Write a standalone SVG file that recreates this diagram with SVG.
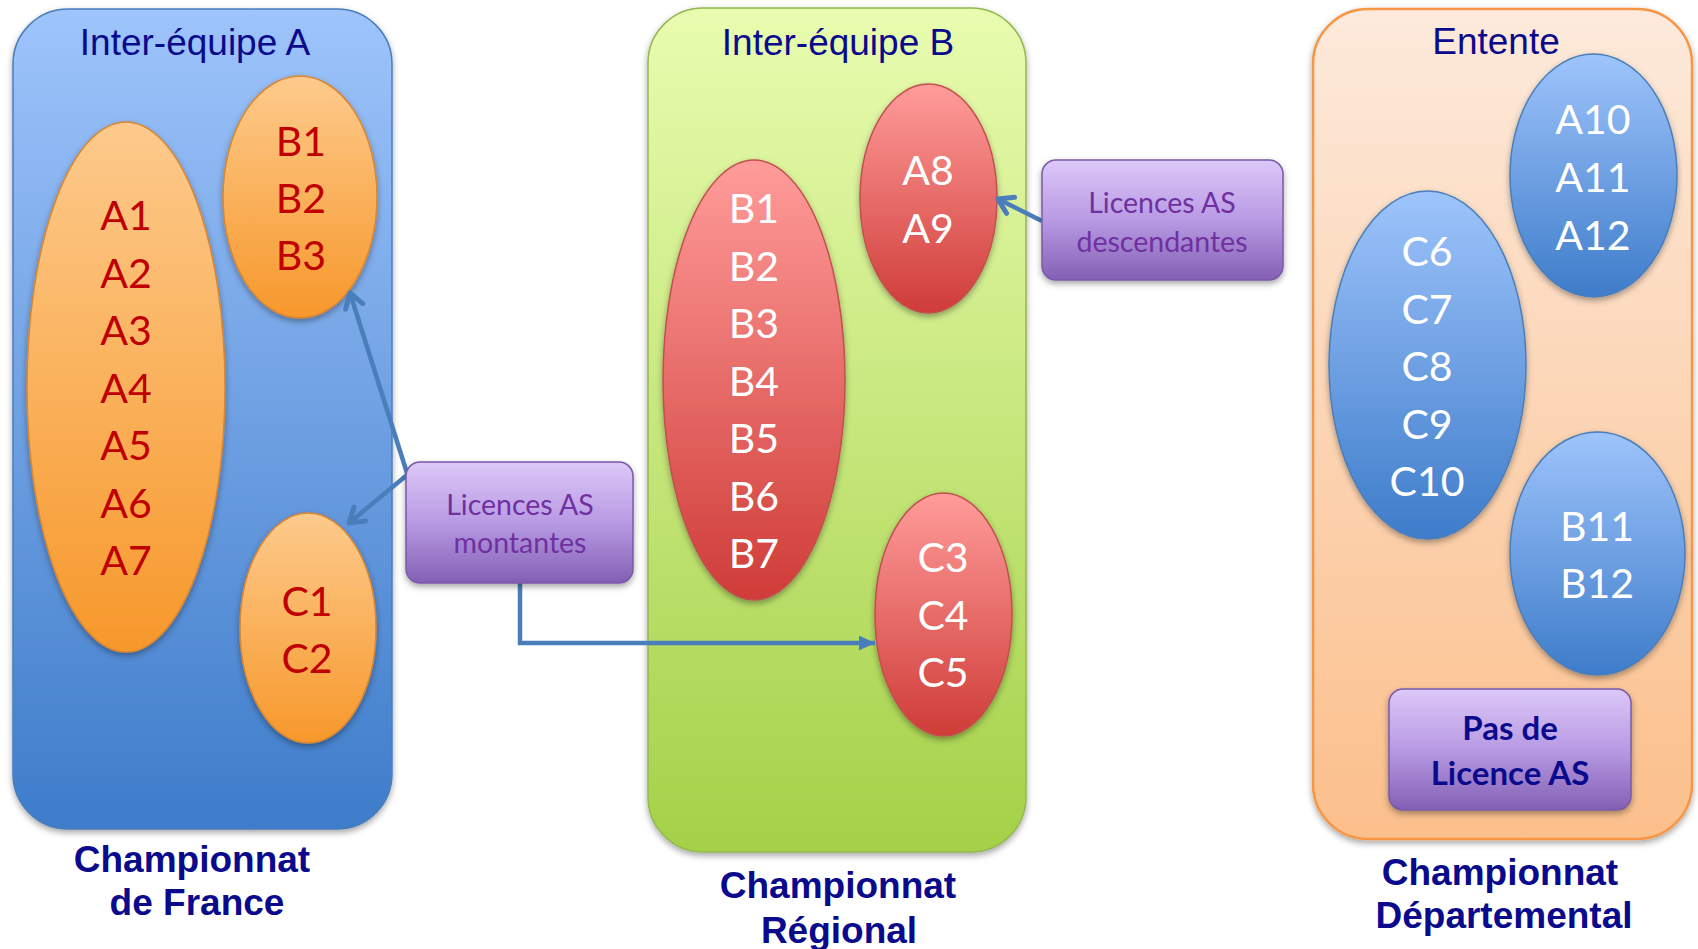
<svg xmlns="http://www.w3.org/2000/svg" width="1698" height="949" viewBox="0 0 1698 949">
<defs>
<linearGradient id="gPanelA" x1="0" y1="0" x2="0" y2="1"><stop offset="0" stop-color="#9ec4fb"/><stop offset="1" stop-color="#3e7cca"/></linearGradient>
<linearGradient id="gPanelB" x1="0" y1="0" x2="0" y2="1"><stop offset="0" stop-color="#e9fcb0"/><stop offset="1" stop-color="#a4d148"/></linearGradient>
<linearGradient id="gPanelC" x1="0" y1="0" x2="0" y2="1"><stop offset="0" stop-color="#fdeadc"/><stop offset="1" stop-color="#fbbf8b"/></linearGradient>
<linearGradient id="gOrange" x1="0" y1="0" x2="0" y2="1"><stop offset="0" stop-color="#fdca8c"/><stop offset="1" stop-color="#f7982b"/></linearGradient>
<linearGradient id="gRed" x1="0" y1="0" x2="0" y2="1"><stop offset="0" stop-color="#ff9c9a"/><stop offset="1" stop-color="#cf3c38"/></linearGradient>
<linearGradient id="gBlue" x1="0" y1="0" x2="0" y2="1"><stop offset="0" stop-color="#9ec4fb"/><stop offset="1" stop-color="#3e7cca"/></linearGradient>
<linearGradient id="gPurple" x1="0" y1="0" x2="0" y2="1"><stop offset="0" stop-color="#dcc8f8"/><stop offset="0.5" stop-color="#b89ae3"/><stop offset="1" stop-color="#8360b4"/></linearGradient>
<filter id="sh" x="-20%" y="-20%" width="140%" height="140%"><feDropShadow dx="0" dy="3" stdDeviation="3" flood-color="#000" flood-opacity="0.35"/></filter>
<marker id="openArrow" markerUnits="userSpaceOnUse" viewBox="0 0 22 24" refX="18" refY="12" markerWidth="22" markerHeight="24" orient="auto"><path d="M4,3 L18,12 L4,21" fill="none" stroke="#4a7ebb" stroke-width="5" stroke-linecap="round" stroke-linejoin="round"/></marker>
<marker id="solidArrow" markerUnits="userSpaceOnUse" viewBox="0 0 16 15" refX="16" refY="7.5" markerWidth="16" markerHeight="15" orient="auto"><path d="M0,0 L16,7.5 L0,15 z" fill="#4a7ebb"/></marker>
</defs>
<style>
.title{font-family:"Liberation Sans",Arial,sans-serif;font-size:37px;fill:#0a0a8c;text-anchor:middle}
.champ{font-family:"Liberation Sans",Arial,sans-serif;font-size:37px;font-weight:bold;fill:#0a0a8c;text-anchor:middle}
.lab{font-family:Lato,"Open Sans",sans-serif;font-size:41px;text-anchor:middle}
.red{fill:#c00000}
.white{fill:#ffffff}
.box{font-family:Lato,"Open Sans",sans-serif;font-size:28.5px;fill:#7030a0;text-anchor:middle}
.boxb{font-family:Lato,"Open Sans",sans-serif;font-size:33px;font-weight:bold;fill:#0a0a8c;text-anchor:middle}
.eOrange{fill:url(#gOrange);stroke:#d98632;stroke-width:1.5}
.eRed{fill:url(#gRed);stroke:#c0504d;stroke-width:1.5}
.eBlue{fill:url(#gBlue);stroke:#4a7ebb;stroke-width:1.5}
.pbox{fill:url(#gPurple);stroke:#7a5aa8;stroke-width:1.5}
.conn{fill:none;stroke:#4a7ebb;stroke-width:4.5}
</style>
<rect width="1698" height="949" fill="#ffffff"/>

<g id="panelA">
<rect x="13" y="9" width="379" height="820" rx="55" fill="url(#gPanelA)" stroke="#4a7ebb" stroke-width="1.5" filter="url(#sh)"/>
<text class="title" x="195" y="55">Inter-équipe A</text>
</g>
<g id="panelB">
<rect x="648" y="8" width="378" height="844" rx="55" fill="url(#gPanelB)" stroke="#93b852" stroke-width="1.5" filter="url(#sh)"/>
<text class="title" x="838" y="55">Inter-équipe B</text>
</g>
<g id="panelC">
<rect x="1313" y="9" width="379" height="830" rx="55" fill="url(#gPanelC)" stroke="#f79646" stroke-width="2.5" filter="url(#sh)"/>
<text class="title" x="1496" y="54">Entente</text>
</g>

<g id="nodeA1A7">
<ellipse class="eOrange" cx="126" cy="387" rx="99" ry="265" filter="url(#sh)"/>
<text class="lab red"><tspan x="126" y="230">A1</tspan><tspan x="126" y="287.5">A2</tspan><tspan x="126" y="345">A3</tspan><tspan x="126" y="402.5">A4</tspan><tspan x="126" y="460">A5</tspan><tspan x="126" y="517.5">A6</tspan><tspan x="126" y="575">A7</tspan></text>
</g>
<g id="nodeB1B3">
<ellipse class="eOrange" cx="300" cy="197" rx="77" ry="121" filter="url(#sh)"/>
<text class="lab red"><tspan x="301" y="156">B1</tspan><tspan x="301" y="213">B2</tspan><tspan x="301" y="270">B3</tspan></text>
</g>
<g id="nodeC1C2">
<ellipse class="eOrange" cx="308" cy="628" rx="68" ry="115" filter="url(#sh)"/>
<text class="lab red"><tspan x="307" y="616">C1</tspan><tspan x="307" y="673">C2</tspan></text>
</g>

<g id="nodeB1B7">
<ellipse class="eRed" cx="754" cy="380" rx="91" ry="220" filter="url(#sh)"/>
<text class="lab white"><tspan x="754" y="223">B1</tspan><tspan x="754" y="280.5">B2</tspan><tspan x="754" y="338">B3</tspan><tspan x="754" y="395.5">B4</tspan><tspan x="754" y="453">B5</tspan><tspan x="754" y="510.5">B6</tspan><tspan x="754" y="568">B7</tspan></text>
</g>
<g id="nodeA8A9">
<ellipse class="eRed" cx="928.5" cy="198.5" rx="68.5" ry="114.5" filter="url(#sh)"/>
<text class="lab white"><tspan x="928" y="185">A8</tspan><tspan x="928" y="243">A9</tspan></text>
</g>
<g id="nodeC3C5">
<ellipse class="eRed" cx="943.5" cy="614.5" rx="68.5" ry="121.5" filter="url(#sh)"/>
<text class="lab white"><tspan x="943" y="572">C3</tspan><tspan x="943" y="630">C4</tspan><tspan x="943" y="687">C5</tspan></text>
</g>

<g id="nodeA10A12">
<ellipse class="eBlue" cx="1593.5" cy="175.5" rx="83.5" ry="121.5" filter="url(#sh)"/>
<text class="lab white"><tspan x="1593" y="134">A10</tspan><tspan x="1593" y="192">A11</tspan><tspan x="1593" y="250">A12</tspan></text>
</g>
<g id="nodeC6C10">
<ellipse class="eBlue" cx="1427.5" cy="365" rx="98.5" ry="174" filter="url(#sh)"/>
<text class="lab white"><tspan x="1427" y="266">C6</tspan><tspan x="1427" y="323.5">C7</tspan><tspan x="1427" y="381">C8</tspan><tspan x="1427" y="438.5">C9</tspan><tspan x="1427" y="496">C10</tspan></text>
</g>
<g id="nodeB11B12">
<ellipse class="eBlue" cx="1597.5" cy="553.5" rx="87.5" ry="121.5" filter="url(#sh)"/>
<text class="lab white"><tspan x="1597" y="541">B11</tspan><tspan x="1597" y="598">B12</tspan></text>
</g>

<g id="connectors">
<line class="conn" x1="407" y1="473" x2="350" y2="293" marker-end="url(#openArrow)"/>
<line class="conn" x1="407" y1="475" x2="349" y2="523" marker-end="url(#openArrow)"/>
<polyline class="conn" points="520,583 520,643 875,643" marker-end="url(#solidArrow)"/>
<line class="conn" x1="1042" y1="221" x2="998" y2="199" marker-end="url(#openArrow)"/>
</g>

<g id="boxMontantes">
<rect class="pbox" x="406" y="462" width="227" height="121" rx="14" filter="url(#sh)"/>
<text class="box"><tspan x="520" y="515">Licences AS</tspan><tspan x="520" y="553">montantes</tspan></text>
</g>
<g id="boxDescendantes">
<rect class="pbox" x="1042" y="160" width="241" height="120" rx="14" filter="url(#sh)"/>
<text class="box"><tspan x="1162" y="213">Licences AS</tspan><tspan x="1162" y="252">descendantes</tspan></text>
</g>
<g id="boxPasDeLicence">
<rect class="pbox" x="1389" y="689" width="242" height="121" rx="14" filter="url(#sh)"/>
<text class="boxb"><tspan x="1510" y="740">Pas de</tspan><tspan x="1510" y="785">Licence AS</tspan></text>
</g>

<g id="labels">
<text class="champ"><tspan x="192" y="872">Championnat</tspan><tspan x="197" y="915">de France</tspan></text>
<text class="champ"><tspan x="838" y="898">Championnat</tspan><tspan x="839" y="943">Régional</tspan></text>
<text class="champ"><tspan x="1500" y="885">Championnat</tspan><tspan x="1504" y="928">Départemental</tspan></text>
</g>
</svg>
